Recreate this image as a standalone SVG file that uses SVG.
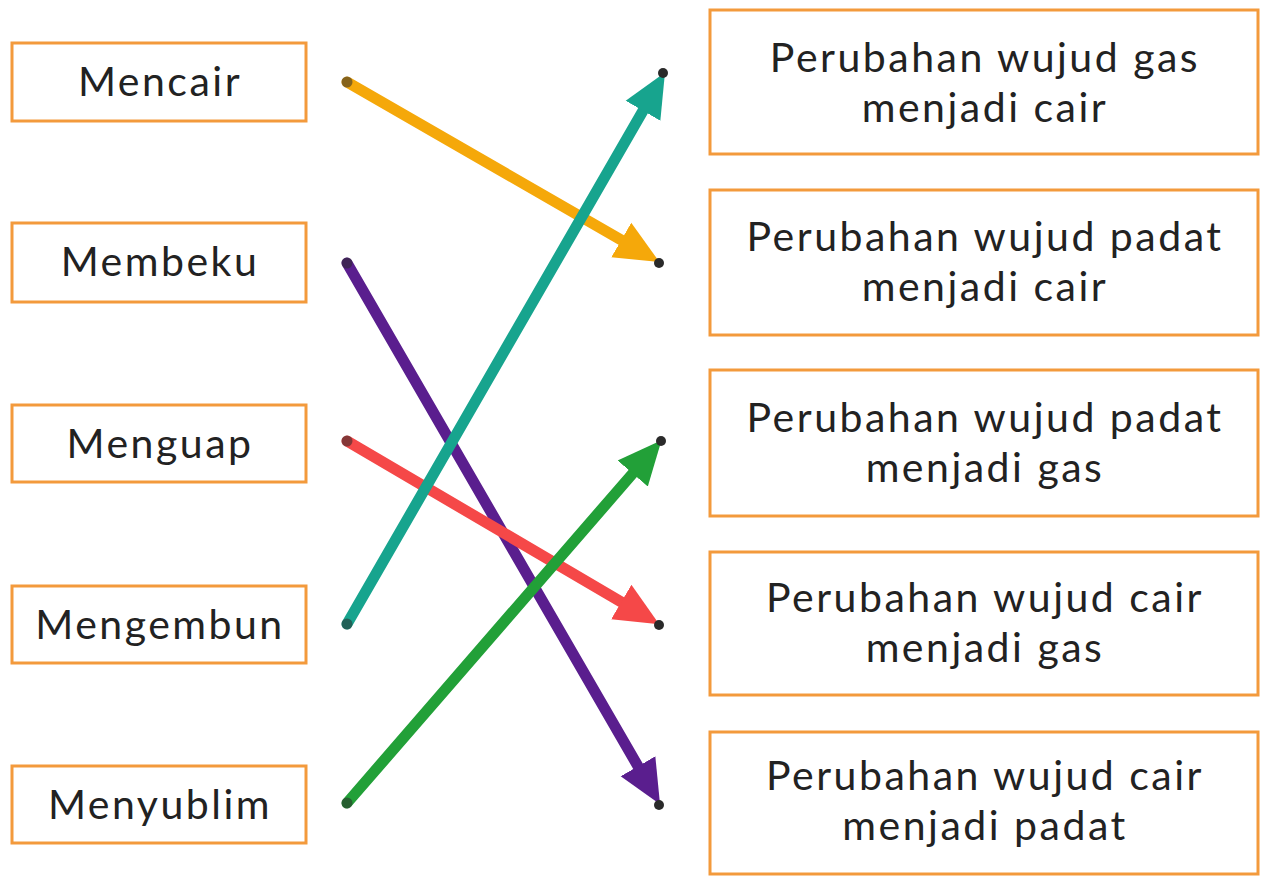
<svg xmlns="http://www.w3.org/2000/svg" width="1267" height="877" viewBox="0 0 1267 877">
<style>
.box{fill:#ffffff;stroke:#F39A3C;stroke-width:3}
.t{font-family:Lato,"Open Sans","Liberation Sans",sans-serif;font-size:41px;letter-spacing:2.5px;fill:#222222;text-anchor:middle}
.ln{fill:none;stroke-width:11;stroke-linecap:round}
.dot{fill:#2a2a2a}
</style>
<defs>
<marker id="mOr" viewBox="0 -22 46 44" refX="2" refY="0" markerWidth="46" markerHeight="44" markerUnits="userSpaceOnUse" orient="auto"><path d="M0,-20 L44,0 L0,20 Z" fill="#F5A80A"/></marker>
<marker id="mPu" viewBox="0 -22 46 44" refX="2" refY="0" markerWidth="46" markerHeight="44" markerUnits="userSpaceOnUse" orient="auto"><path d="M0,-20 L44,0 L0,20 Z" fill="#5A1E8E"/></marker>
<marker id="mRe" viewBox="0 -22 46 44" refX="2" refY="0" markerWidth="46" markerHeight="44" markerUnits="userSpaceOnUse" orient="auto"><path d="M0,-20 L44,0 L0,20 Z" fill="#F54848"/></marker>
<marker id="mTe" viewBox="0 -22 46 44" refX="2" refY="0" markerWidth="46" markerHeight="44" markerUnits="userSpaceOnUse" orient="auto"><path d="M0,-20 L44,0 L0,20 Z" fill="#17A48E"/></marker>
<marker id="mGr" viewBox="0 -22 46 44" refX="2" refY="0" markerWidth="46" markerHeight="44" markerUnits="userSpaceOnUse" orient="auto"><path d="M0,-20 L44,0 L0,20 Z" fill="#22A038"/></marker>
</defs>
<rect width="1267" height="877" fill="#ffffff"/>

<g id="mencair"><rect class="box" x="12" y="43" width="294" height="78"/><text class="t" x="160" y="96">Mencair</text></g>
<g id="membeku"><rect class="box" x="12" y="223" width="294" height="79"/><text class="t" x="160" y="276">Membeku</text></g>
<g id="menguap"><rect class="box" x="12" y="405" width="294" height="77"/><text class="t" x="160" y="458">Menguap</text></g>
<g id="mengembun"><rect class="box" x="12" y="586" width="294" height="77"/><text class="t" x="160" y="639">Mengembun</text></g>
<g id="menyublim"><rect class="box" x="12" y="766" width="294" height="77"/><text class="t" x="160" y="819">Menyublim</text></g>

<g id="gas-cair"><rect class="box" x="710" y="10" width="548" height="144"/><text class="t" x="985" y="72">Perubahan wujud gas</text><text class="t" x="985" y="122">menjadi cair</text></g>
<g id="padat-cair"><rect class="box" x="710" y="190" width="548" height="145"/><text class="t" x="985" y="251">Perubahan wujud padat</text><text class="t" x="985" y="301">menjadi cair</text></g>
<g id="padat-gas"><rect class="box" x="710" y="370" width="548" height="146"/><text class="t" x="985" y="432">Perubahan wujud padat</text><text class="t" x="985" y="482">menjadi gas</text></g>
<g id="cair-gas"><rect class="box" x="710" y="552" width="548" height="143"/><text class="t" x="985" y="612">Perubahan wujud cair</text><text class="t" x="985" y="662">menjadi gas</text></g>
<g id="cair-padat"><rect class="box" x="710" y="732" width="548" height="142"/><text class="t" x="985" y="790">Perubahan wujud cair</text><text class="t" x="985" y="840">menjadi padat</text></g>

<g id="connectors">
<line class="ln" x1="347" y1="82" x2="623" y2="241" stroke="#F5A80A" marker-end="url(#mOr)"/>
<line class="ln" x1="347" y1="263" x2="639" y2="768" stroke="#5A1E8E" marker-end="url(#mPu)"/>
<line class="ln" x1="347" y1="441" x2="623" y2="603" stroke="#F54848" marker-end="url(#mRe)"/>
<line class="ln" x1="347" y1="624" x2="644" y2="109" stroke="#17A48E" marker-end="url(#mTe)"/>
<line class="ln" x1="347" y1="803" x2="634" y2="472" stroke="#22A038" marker-end="url(#mGr)"/>
<g opacity="0.55">
<circle class="dot" cx="347" cy="82" r="5.5"/>
<circle class="dot" cx="347" cy="263" r="5.5"/>
<circle class="dot" cx="347" cy="441" r="5.5"/>
<circle class="dot" cx="347" cy="624" r="5.5"/>
<circle class="dot" cx="347" cy="803" r="5.5"/>
</g>
<circle class="dot" cx="659" cy="263" r="5"/>
<circle class="dot" cx="659" cy="805" r="5"/>
<circle class="dot" cx="659" cy="625" r="5"/>
<circle class="dot" cx="663" cy="73" r="5"/>
<circle class="dot" cx="661" cy="441" r="5"/>
</g>
</svg>
